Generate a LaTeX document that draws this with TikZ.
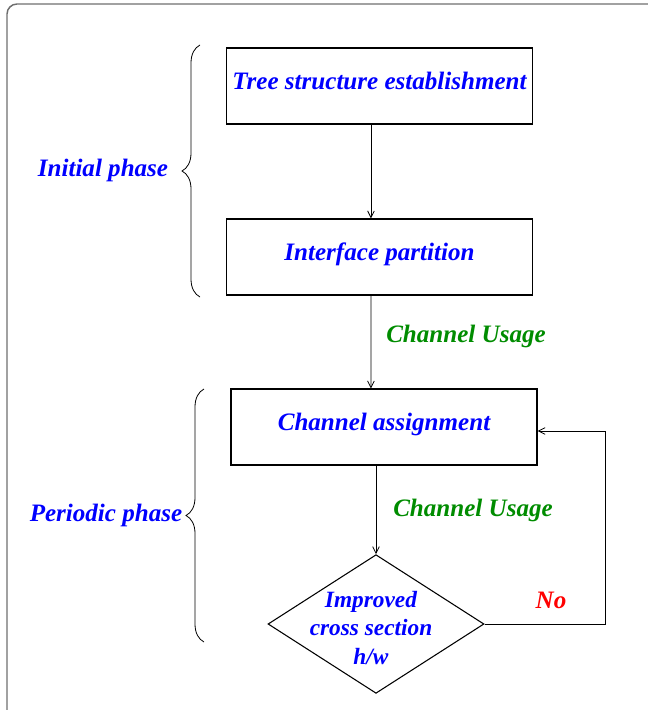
\documentclass[tikz,border=0pt]{standalone}
\usepackage{fontspec}
\setmainfont{Liberation Serif}
\usetikzlibrary{shapes.geometric,arrows.meta,decorations.pathreplacing}
\definecolor{bcol}{RGB}{0,0,255}
\definecolor{gcol}{RGB}{0,140,0}
\definecolor{rcol}{RGB}{255,0,0}
\definecolor{fcol}{RGB}{110,110,110}
\tikzset{every picture/.style={x=0.75pt,y=-0.75pt}}
\tikzset{stepbox/.style={rectangle,draw,line width=0.8pt,minimum width=229.5pt,minimum height=57pt,inner sep=0pt,text height=13pt,text depth=7.5pt,text=bcol,font=\fontsize{18.8}{22}\selectfont\bfseries\itshape}}
\tikzset{decision/.style={diamond,draw,line width=0.8pt,minimum width=162pt,minimum height=104pt,inner sep=0pt}}
\tikzset{lbl/.style={font=\fontsize{18.8}{22}\selectfont\bfseries\itshape}}
\tikzset{edge/.style={line width=0.6pt,-{Straight Barb[length=5pt,width=5pt]}}}
\tikzset{phase/.style={decorate,decoration={brace,amplitude=13.5pt},line width=0.6pt}}

\begin{document}
\begin{tikzpicture}
\useasboundingbox (0,0) rectangle (648,710);
\clip (0,0) rectangle (648,710);
\draw [fcol,line width=1.1pt,rounded corners=7.5pt] (7,4) rectangle (680,740);

\node [stepbox] (tree) at (379.5,86) {Tree structure establishment};
\node [stepbox] (iface) at (379.5,257) {Interface partition};
\node [stepbox] (assign) at (384,427) {Channel assignment};
\node [decision] (dia) at (376,624) {};
\node [lbl,text=bcol,align=center,font=\fontsize{17.5}{21.5}\selectfont\bfseries\itshape] (dtext) at (371,628) {Improved\\cross section\\h/w};

\node [lbl,text=gcol] (use1) at (466,336) {Channel Usage};
\node [lbl,text=gcol] (use2) at (473,510) {Channel Usage};
\node [lbl,text=rcol] (no) at (551,600) {No};

\node [lbl,text=bcol] (init) at (103,170) {Initial phase};
\node [lbl,text=bcol] (peri) at (106,515) {Periodic phase};

\coordinate (i1) at (200,297);
\coordinate (i2) at (200,45);
\coordinate (p1) at (204,642);
\coordinate (p2) at (204,389);
\coordinate (loop) at (605,624);

\draw [phase] (i1) -- (i2);
\draw [phase] (p1) -- (p2);

\draw [edge] ([xshift=-6.4pt]tree.south) -- ([xshift=-6.4pt]iface.north);
\draw [edge] ([xshift=-6.4pt]iface.south) -- ([xshift=-9.8pt]assign.north);
\draw [edge] (dia.north |- assign.south) -- (dia.north);
\draw [edge] (dia.east) -- (loop) |- ([yshift=-3pt]assign.east);
\end{tikzpicture}
\end{document}
